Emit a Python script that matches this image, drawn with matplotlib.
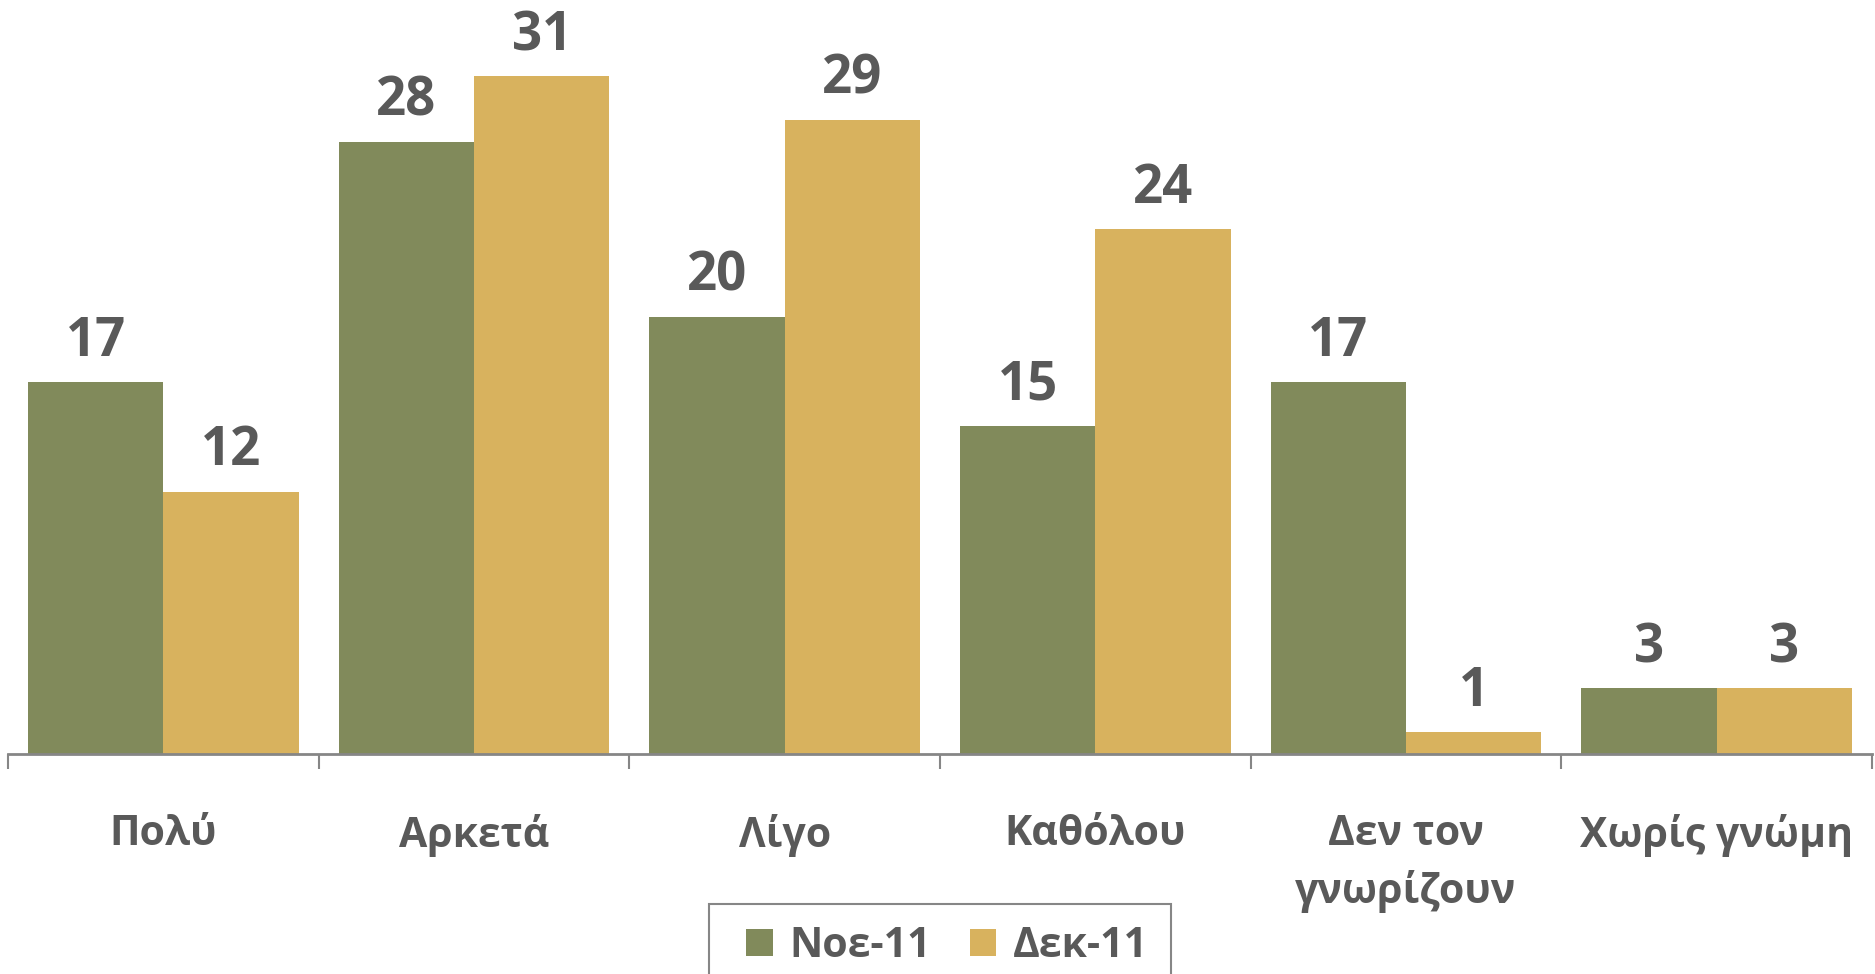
import numpy as np
import matplotlib
matplotlib.use("Agg")
import matplotlib.pyplot as plt
from matplotlib.patches import Rectangle

plt.rcParams['font.family'] = ['Open Sans', 'DejaVu Sans']
plt.rcParams['font.weight'] = 'bold'

# Data
categories = ["Πολύ", "Αρκετά", "Λίγο", "Καθόλου", "Δεν τον\nγνωρίζουν", "Χωρίς γνώμη"]
nov_11 = [17, 28, 20, 15, 17, 3]
dec_11 = [12, 31, 29, 24, 1, 3]
series_names = ["Νοε-11", "Δεκ-11"]

green = "#818A5B"
gold = "#D8B25E"
text_col = "#595959"
axis_col = "#868686"

fig = plt.figure(figsize=(18.75, 9.74), dpi=100)
ax = fig.add_axes([8 / 1875, 1 - 754 / 974, (1872 - 8) / 1875, 754 / 974])

x = np.arange(len(categories))
w = 0.436
b1 = ax.bar(x - w / 2, nov_11, w, color=green, label=series_names[0])
b2 = ax.bar(x + w / 2, dec_11, w, color=gold, label=series_names[1])

for bars, vals in [(b1, nov_11), (b2, dec_11)]:
    for r, v in zip(bars, vals):
        ax.annotate(str(v), (r.get_x() + r.get_width() / 2, v), xytext=(0, 19),
                    textcoords="offset points", ha="center", va="baseline",
                    fontsize=38, fontweight="bold", color=text_col)

ax.set_xlim(-0.5, len(categories) - 0.5)
ax.set_ylim(0, 34.5)
ax.set_yticks([])
for s in ["top", "right", "left"]:
    ax.spines[s].set_visible(False)
ax.spines["bottom"].set_color(axis_col)
ax.spines["bottom"].set_linewidth(2)

ax.set_xticks(x)
ax.set_xticklabels(categories, fontsize=29.5, fontweight="bold", color=text_col, linespacing=1.45)
ax.set_xticks(np.arange(len(categories) + 1) - 0.5, minor=True)
ax.tick_params(axis="x", which="major", length=0, pad=43)
ax.tick_params(axis="x", which="minor", length=11, width=1.5, color=axis_col)

# legend (frame drawn separately, wider than the legend content like in Excel)
leg = fig.legend(loc="upper center", bbox_to_anchor=(947 / 1875, 1 - 926 / 974), ncol=2,
                 frameon=False, fontsize=29.5, handlelength=0.65, handleheight=0.65,
                 handletextpad=0.4, columnspacing=0.95, borderpad=0.0, borderaxespad=0)
for t in leg.get_texts():
    t.set_color(text_col)
    t.set_fontweight("bold")

fig.canvas.draw()
bb = leg.get_window_extent(fig.canvas.get_renderer()).transformed(fig.transFigure.inverted())
px_w = 1 / 1875
frame = Rectangle((bb.x0 - 37 * px_w, -0.05), (bb.x1 - bb.x0) + 60 * px_w,
                  (1 - 904 / 974) + 0.05, transform=fig.transFigure,
                  fill=False, edgecolor=axis_col, linewidth=1.5)
fig.add_artist(frame)

fig.savefig("out.png", dpi=100)
